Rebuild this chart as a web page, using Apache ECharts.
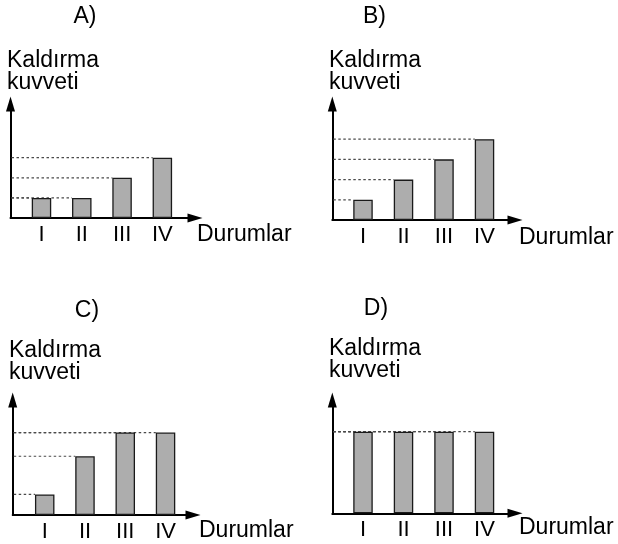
<!DOCTYPE html>
<html>
<head>
<meta charset="utf-8">
<script src="https://cdn.jsdelivr.net/npm/echarts@6/dist/echarts.min.js"></script>
<style>html,body{margin:0;padding:0;background:#fff;}#c{width:618px;height:544px;}</style>
</head>
<body>
<div id="c"></div>
<script>
// ---- data ----
const categories = ['I', 'II', 'III', 'IV'];
const valuesA = [1, 1, 2, 3];
const valuesB = [1, 2, 3, 4];
const valuesC = [1, 2.85, 4, 4];
const valuesD = [4, 4, 4, 4];
const panelTitles = ['A)', 'B)', 'C)', 'D)'];
const yName = ['Kaldırma', 'kuvveti'];
const xName = 'Durumlar';

// ---- layout (positions / scales only) ----
const FONT = 'Liberation Sans, Arial, sans-serif';
const BAR_W = 19.5;
const panels = [
  { values: valuesA, left: 10.5, top: 104, width: 184.5, height: 114, xmin: 0.231, xmax: 4.81, ymax: 5.67,
    title: [85, 17], yname: [7, 71.5], xname: [197, 234.5] },
  { values: valuesB, left: 332.3, top: 104, width: 182.7, height: 116, xmin: 0.242, xmax: 4.753, ymax: 5.74,
    title: [374.5, 17], yname: [329, 72], xname: [519, 237.5] },
  { values: valuesC, left: 12.7, top: 400, width: 180.3, height: 115, xmin: 0.205, xmax: 4.682, ymax: 5.58,
    title: [87, 311], yname: [9, 362], xname: [199, 530.5] },
  { values: valuesD, left: 332.3, top: 400, width: 182.7, height: 113.3, xmin: 0.242, xmax: 4.753, ymax: 5.55,
    title: [376, 309], yname: [329, 360], xname: [519, 527.5] }
];

const grid = [], xAxis = [], yAxis = [], series = [], graphic = [];
const axisLine = {
  show: true, onZero: false,
  symbol: ['none', 'triangle'], symbolSize: [9, 15],
  lineStyle: { color: '#000', width: 2 }
};

panels.forEach((p, k) => {
  grid.push({ left: p.left, top: p.top, width: p.width, height: p.height });
  xAxis.push({
    type: 'value', gridIndex: k, min: p.xmin, max: p.xmax,
    axisLine: axisLine, axisTick: { show: false }, splitLine: { show: false },
    axisLabel: {
      show: true, customValues: categories.map((c, i) => i + 1),
      formatter: v => categories[Math.round(v) - 1] || '',
      fontSize: 22, lineHeight: 22, color: '#000', fontFamily: FONT, margin: 6
    }
  });
  yAxis.push({
    type: 'value', gridIndex: k, min: 0, max: p.ymax,
    axisLine: axisLine, axisTick: { show: false }, splitLine: { show: false },
    axisLabel: { show: false }
  });
  const data = p.values.map((v, i) => [i + 1, v]);
  series.push({
    type: 'custom', xAxisIndex: k, yAxisIndex: k, z: 2, silent: true,
    data: data,
    renderItem: (params, api) => {
      const x = api.value(0), v = api.value(1);
      const end = api.coord([x, v]);
      const startX = params.coordSys.x;
      return {
        type: 'line',
        shape: { x1: startX + 1, y1: end[1], x2: end[0] - BAR_W / 2, y2: end[1] },
        style: { stroke: '#4a4a4a', lineWidth: 1.2, lineDash: [2.5, 2.5] }
      };
    }
  });
  series.push({
    type: 'bar', xAxisIndex: k, yAxisIndex: k, z: 3, barWidth: BAR_W, silent: true,
    data: data,
    itemStyle: { color: '#adadad', borderColor: '#1a1a1a', borderWidth: 1.3 }
  });
  graphic.push({
    type: 'text', x: p.title[0], y: p.title[1],
    style: { text: panelTitles[k], fontSize: 23, fontFamily: FONT, fill: '#000', align: 'center', verticalAlign: 'middle' }
  });
  graphic.push({
    type: 'text', x: p.yname[0], y: p.yname[1],
    style: { text: yName.join('\n'), fontSize: 23, lineHeight: 22, fontFamily: FONT, fill: '#000', align: 'left', verticalAlign: 'middle' }
  });
  graphic.push({
    type: 'text', x: p.xname[0], y: p.xname[1],
    style: { text: xName, fontSize: 23, fontFamily: FONT, fill: '#000', align: 'left', verticalAlign: 'middle' }
  });
});

const chart = echarts.init(document.getElementById('c'), null, { renderer: 'canvas' });
chart.setOption({
  animation: false,
  backgroundColor: '#fff',
  grid, xAxis, yAxis, series, graphic
});
</script>
</body>
</html>
